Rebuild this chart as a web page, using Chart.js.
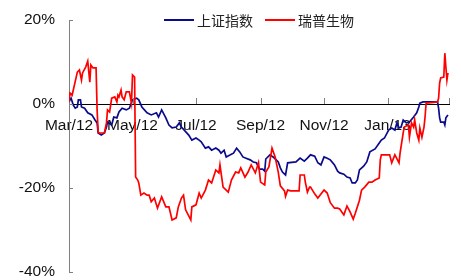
<!DOCTYPE html>
<html>
<head>
<meta charset="utf-8">
<script src="https://cdn.jsdelivr.net/npm/chart.js@4/dist/chart.umd.min.js"></script>
<style>
  body { margin: 0; background: #fff; }
</style>
</head>
<body>
<canvas id="chart" width="461" height="280"></canvas>
<script>
// x values are days since 2012-03-01, y values are % change
var seriesNames = ['上证指数', '瑞普生物'];
var tickDays = [0, 61, 122, 184, 245, 306, 365];
var tickLabels = ['Mar/12', 'May/12', 'Jul/12', 'Sep/12', 'Nov/12', 'Jan/13', ''];

var blueDays = [0, 2, 4, 6, 8, 9, 11, 12, 15, 18,
    22, 25, 27, 28, 31, 34, 36, 37, 41, 43,
    46, 48, 51, 55, 58, 61, 65, 67, 70, 75,
    79, 84, 86, 89, 93, 96, 99, 103, 106, 108,
    115, 118, 122, 125, 127, 131, 134, 137, 141, 144,
    146, 149, 151, 155, 158, 161, 164, 167, 170, 174,
    177, 180, 183, 186, 188, 189, 193, 196, 199, 201,
    203, 205, 208, 210, 218, 222, 226, 229, 232, 236,
    239, 242, 245, 248, 251, 255, 258, 260, 264, 267,
    270, 272, 275, 277, 279, 283, 286, 289, 294, 298,
    300, 303, 307, 310, 313, 315, 317, 319, 321, 324,
    327, 331, 334, 336, 337, 340, 354, 355, 356, 357,
    360, 361, 362, 364];
var blueValues = [0.5, 1.4, -0.2, -1.0, -0.7, 1.0, 1.0, -0.7, -1.0, -2.1,
    -2.6, -3.8, -4.5, -6.9, -7.4, -6.9, -5.5, -4.3, -5.0, -3.1,
    -3.3, -1.9, -1.0, -1.4, -1.0, 1.0, 1.4, 1.0, -0.7, -2.1,
    -2.6, -2.1, -3.1, -1.4, -3.3, -5.0, -5.7, -5.5, -4.5, -5.5,
    -7.4, -8.6, -8.1, -8.6, -9.0, -10.5, -10.2, -11.0, -10.5, -11.0,
    -11.7, -11.0, -12.6, -12.1, -11.7, -10.5, -11.4, -12.6, -12.9, -13.3,
    -13.8, -14.0, -15.5, -15.5, -16.0, -13.1, -12.1, -12.6, -13.3, -13.8,
    -15.2, -16.2, -16.9, -14.0, -13.8, -12.9, -13.6, -12.9, -12.1, -12.4,
    -14.0, -14.5, -12.6, -12.9, -13.3, -14.5, -16.0, -16.4, -16.7, -17.4,
    -17.6, -18.8, -18.8, -18.1, -15.7, -14.8, -13.8, -11.4, -10.7, -9.3,
    -8.6, -8.1, -6.2, -5.7, -6.2, -4.5, -5.7, -5.5, -3.8, -4.5,
    -4.3, -3.1, -2.1, -0.7, 0.2, 0.5, 0.5, -1.0, -3.3, -4.3,
    -4.3, -5.0, -3.3, -2.6];

var redDays = [0, 1, 3, 8, 10, 12, 13, 16, 18, 20,
    21, 23, 26, 27, 28, 29, 34, 36, 37, 39,
    41, 44, 46, 47, 48, 50, 51, 53, 55, 58,
    60, 61, 63, 64, 66, 67, 69, 72, 75, 77,
    79, 82, 85, 89, 93, 96, 99, 103, 105, 108,
    110, 112, 117, 118, 122, 125, 127, 131, 134, 137,
    141, 144, 145, 148, 151, 153, 156, 160, 163, 165,
    169, 172, 175, 179, 182, 184, 188, 189, 192, 195,
    198, 201, 203, 207, 208, 210, 213, 221, 222, 226,
    227, 229, 231, 232, 236, 239, 245, 248, 251, 255,
    258, 260, 264, 267, 270, 273, 275, 279, 281, 284,
    288, 291, 294, 298, 299, 300, 303, 308, 310, 313,
    317, 318, 321, 322, 326, 327, 329, 331, 332, 334,
    336, 337, 339, 341, 342, 343, 354, 355, 356, 357,
    360, 361, 362, 363, 364];
var redValues = [0.5, 2.6, 2.1, 7.6, 8.1, 5.7, 7.4, 8.8, 10.2, 5.2,
    9.3, 8.6, 8.6, -1.4, -6.7, -6.9, -6.9, -4.5, -1.4, -1.9,
    1.4, 1.7, 0.5, 2.1, 1.7, 3.3, 1.7, 1.0, 2.9, 2.9,
    0.2, 6.9, 6.4, -17.4, -18.1, -18.8, -21.7, -21.2, -21.7, -21.7,
    -23.3, -22.4, -24.8, -22.1, -24.5, -24.5, -27.6, -27.1, -24.5, -22.4,
    -21.7, -25.2, -27.6, -24.5, -24.0, -21.2, -22.4, -20.5, -18.1, -18.8,
    -15.7, -16.4, -14.5, -19.8, -20.5, -21.0, -18.1, -16.2, -16.4, -15.2,
    -17.4, -16.2, -14.5, -16.4, -14.0, -18.6, -19.3, -16.2, -15.0, -10.5,
    -12.6, -16.2, -19.5, -20.7, -22.0, -20.5, -20.7, -20.7, -16.9, -16.9,
    -18.6, -21.0, -19.8, -19.8, -21.4, -22.4, -20.5, -21.2, -23.5, -24.8,
    -24.8, -25.0, -26.4, -24.3, -25.7, -27.4, -26.0, -22.9, -20.5, -19.8,
    -18.6, -18.6, -18.1, -17.6, -13.3, -12.1, -12.1, -12.1, -14.0, -12.1,
    -14.0, -11.7, -6.9, -5.5, -5.0, -7.9, -4.5, -5.5, -3.8, -6.9,
    -8.6, -5.7, -7.9, -5.5, -3.1, 0.2, 0.5, 1.4, 5.0, 6.2,
    6.4, 12.1, 8.8, 5.7, 7.4];

function toPoints(days, values) {
    return days.map(function (d, i) { return {x: d, y: values[i]}; });
}

var tickFont = {family: '"Liberation Sans", Arial, sans-serif', size: 15.5};

// inward tick marks on both axes
var tickMarks = {
    id: 'tickMarks',
    afterDraw: function (chart) {
        var ctx = chart.ctx, area = chart.chartArea;
        var xs = chart.scales.x, ys = chart.scales.y;
        ctx.save();
        ctx.strokeStyle = '#808080';
        ctx.lineWidth = 1;
        ctx.beginPath();
        ys.ticks.forEach(function (t) {
            var py = Math.round(ys.getPixelForValue(t.value)) + 0.5;
            ctx.moveTo(area.left, py);
            ctx.lineTo(area.left + 4, py);
        });
        var y0 = ys.getPixelForValue(0);
        xs.ticks.forEach(function (t) {
            if (t.value === 0) return;
            var px = Math.round(xs.getPixelForValue(t.value)) + 0.5;
            ctx.moveTo(px, y0);
            ctx.lineTo(px, y0 - 6);
        });
        ctx.stroke();
        ctx.restore();
    }
};

// legend drawn over the top of the plot, centred on the chart area
var topLegend = {
    id: 'topLegend',
    afterDraw: function (chart) {
        var ctx = chart.ctx, area = chart.chartArea;
        var sets = chart.data.datasets;
        ctx.save();
        ctx.font = '14px "Noto Sans CJK SC", sans-serif';
        ctx.textBaseline = 'middle';
        var lineW = 30, gap = 3, itemGap = 12;
        var total = 0;
        sets.forEach(function (ds, i) {
            total += lineW + gap + ctx.measureText(ds.label).width + (i < sets.length - 1 ? itemGap : 0);
        });
        var x = (area.left + area.right) / 2 - total / 2;
        var y = 20;
        sets.forEach(function (ds) {
            ctx.strokeStyle = ds.borderColor;
            ctx.lineWidth = 2;
            ctx.beginPath();
            ctx.moveTo(x, y);
            ctx.lineTo(x + lineW, y);
            ctx.stroke();
            x += lineW + gap;
            ctx.fillStyle = '#222';
            ctx.fillText(ds.label, x, y + 1);
            x += ctx.measureText(ds.label).width + itemGap;
        });
        ctx.restore();
    }
};

new Chart(document.getElementById('chart'), {
    type: 'line',
    data: {
        datasets: [
            {
                label: seriesNames[0],
                data: toPoints(blueDays, blueValues),
                borderColor: '#0a0a8c',
                borderWidth: 1.7,
                pointRadius: 0,
                tension: 0,
                order: 1
            },
            {
                label: seriesNames[1],
                data: toPoints(redDays, redValues),
                borderColor: '#ff0000',
                borderWidth: 1.7,
                pointRadius: 0,
                tension: 0,
                order: 0
            }
        ]
    },
    options: {
        responsive: false,
        animation: false,
        layout: {padding: {top: 20, right: 8, bottom: 8, left: 0}},
        plugins: {
            legend: {display: false},
            tooltip: {enabled: false}
        },
        scales: {
            x: {
                type: 'linear',
                min: 0,
                max: 365,
                position: {y: 0},
                grid: {display: false, drawTicks: false},
                border: {color: '#000', width: 1},
                ticks: {
                    autoSkip: false,
                    maxRotation: 0,
                    padding: 12,
                    color: '#111',
                    font: tickFont,
                    callback: function (v) {
                        var i = tickDays.indexOf(v);
                        return i >= 0 ? tickLabels[i] : '';
                    }
                },
                afterBuildTicks: function (s) {
                    s.ticks = tickDays.map(function (v) { return {value: v}; });
                },
                afterFit: function (s) { s.height = 0; }
            },
            y: {
                min: -40,
                max: 20,
                grid: {display: false, drawTicks: false},
                border: {color: '#808080', width: 1},
                ticks: {
                    stepSize: 20,
                    padding: 14,
                    color: '#111',
                    font: tickFont,
                    callback: function (v) { return v + '%'; }
                },
                afterFit: function (s) {
                    s.width = 69;
                    s.paddingTop = 0;
                    s.paddingBottom = 0;
                }
            }
        }
    },
    plugins: [tickMarks, topLegend]
});
</script>
</body>
</html>
